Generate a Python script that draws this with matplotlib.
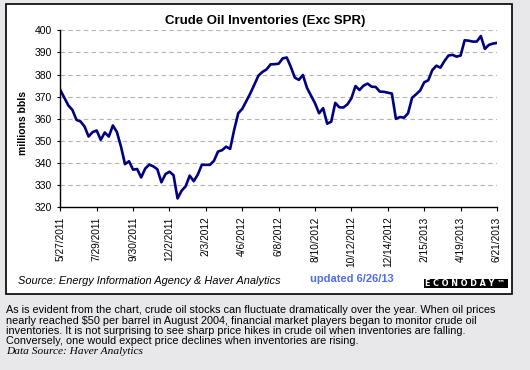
import matplotlib
matplotlib.use('Agg')
import matplotlib.pyplot as plt
import matplotlib.patches as patches
import pandas as pd

# weekly crude oil inventories, excluding SPR (millions of barrels), from 5/27/2011
inventory = [
    373.0, 369.5, 366.0, 364.0, 359.5, 358.8, 356.5, 352.0, 354.0, 354.7,
    350.5, 353.8, 352.0, 357.0, 354.0, 347.5, 339.5, 340.8, 337.0, 337.3,
    333.5, 337.5, 339.3, 338.5, 337.2, 331.3, 335.0, 336.1, 334.5, 324.0,
    327.5, 329.5, 334.3, 331.8, 334.8, 339.2, 339.2, 339.2, 341.0, 345.2,
    345.8, 347.4, 346.4, 355.0, 362.5, 364.5, 368.0, 371.5, 375.5, 379.5,
    381.2, 382.3, 384.6, 384.7, 384.9, 387.3, 387.7, 383.5, 378.6, 377.6,
    379.8, 374.0, 370.5, 367.0, 362.5, 364.8, 357.8, 358.7, 367.2, 365.2,
    365.1, 366.5, 369.3, 374.8, 373.0, 375.0, 375.9, 374.5, 374.4, 372.3,
    372.2, 371.8, 371.4, 360.0, 360.8, 360.5, 362.5, 369.5, 371.1, 372.8,
    376.5, 377.4, 382.0, 384.0, 383.1, 386.1, 388.6, 388.9, 388.1, 388.6,
    395.5, 395.3, 394.9, 394.9, 397.4, 391.6, 393.4, 394.0, 394.3,
]
start_date = '2011-05-27'

tick_labels = ['5/27/2011', '7/29/2011', '9/30/2011', '12/2/2011', '2/3/2012',
               '4/6/2012', '6/8/2012', '8/10/2012', '10/12/2012', '12/14/2012',
               '2/15/2013', '4/19/2013', '6/21/2013']
y_ticks = [320, 330, 340, 350, 360, 370, 380, 390, 400]

title = 'Crude Oil Inventories (Exc SPR)'
y_label = 'millions bbls'
source = 'Source: Energy Information Agency & Haver Analytics'
updated = 'updated 6/26/13'
logo = 'ECONODAY\u2122'
paragraph = [
    'As is evident from the chart, crude oil stocks can fluctuate dramatically over the year. When oil prices',
    'nearly reached $50 per barrel in August 2004, financial market players began to monitor crude oil',
    'inventories. It is not surprising to see sharp price hikes in crude oil when inventories are falling.',
    'Conversely, one would expect price declines when inventories are rising.',
]
data_source = 'Data Source: Haver Analytics'

W, H = 530, 370
BG = '#e8e8ea'
SANS = 'Liberation Sans'


def fx(x):
    return x / W


def fy(y):
    return 1 - y / H


def main():
    dates = pd.date_range(start_date, periods=len(inventory), freq='7D')
    ticks = pd.to_datetime(tick_labels, format='%m/%d/%Y')

    fig = plt.figure(figsize=(W / 100, H / 100), dpi=100, facecolor=BG)

    # white chart panel with black frame
    panel = patches.Rectangle((fx(6), fy(294)), fx(512) - fx(6), fy(4) - fy(294),
                              transform=fig.transFigure, facecolor='white',
                              edgecolor='black', linewidth=1.2, zorder=-5)
    fig.patches.append(panel)

    ax = fig.add_axes([fx(60.3), fy(207.3), fx(497) - fx(60.3), fy(30.3) - fy(207.3)])
    ax.set_zorder(2)
    ax.set_facecolor('none')
    ax.plot(dates, inventory, color='#000080', linewidth=1.9, solid_joinstyle='round')

    ax.set_xlim(dates[0], dates[-1])
    ax.set_ylim(320, 400)
    ax.set_yticks(y_ticks)
    ax.set_yticklabels([str(v) for v in y_ticks])
    ax.set_xticks(ticks)
    ax.set_xticklabels(tick_labels, rotation=90)

    for side in ('top', 'right'):
        ax.spines[side].set_visible(False)
    for side in ('left', 'bottom'):
        ax.spines[side].set_linewidth(1.0)
        ax.spines[side].set_color('black')

    ax.yaxis.grid(True, color='#b4b4b4', linewidth=0.8, linestyle=(0, (4, 3)))
    ax.xaxis.grid(False)
    ax.set_axisbelow(True)
    ax.tick_params(axis='y', direction='out', length=2.2, width=0.8, pad=3.5,
                   labelsize=7.5)
    ax.tick_params(axis='x', direction='out', length=2.8, width=0.8, pad=4,
                   labelsize=7.3)
    for lab in ax.get_xticklabels() + ax.get_yticklabels():
        lab.set_fontfamily(SANS)

    fig.text(fx(265), fy(20.7), title, fontsize=9.5, fontweight='bold',
             family=SANS, ha='center', va='center')
    fig.text(fx(22.7), fy(123), y_label, fontsize=7.5, fontweight='bold',
             family=SANS, rotation=90, ha='center', va='center')

    fig.text(fx(18.3), fy(281.5), source, fontsize=7.9, style='italic',
             family=SANS, ha='left', va='center')
    fig.text(fx(310.5), fy(279), updated, fontsize=8, fontweight='bold',
             color='#4f6cf2', family=SANS, ha='left', va='center')

    logo_box = patches.Rectangle((fx(423.5), fy(288.3)), fx(507.5) - fx(423.5),
                                 fy(279.3) - fy(288.3), transform=fig.transFigure,
                                 facecolor='black', edgecolor='none', zorder=3)
    fig.patches.append(logo_box)
    fig.text(fx(465), fy(283.9), ' '.join(logo), fontsize=5.8, fontweight='bold',
             color='white', family='DejaVu Sans', ha='center', va='center',
             zorder=4)

    line_y = [310.2, 320.6, 331.0, 341.2]
    for txt, y in zip(paragraph, line_y):
        fig.text(fx(6), fy(y), txt, fontsize=7.8, family=SANS, ha='left',
                 va='center', parse_math=False)
    fig.text(fx(6), fy(351.2), data_source, fontsize=8.2, style='italic',
             family='Liberation Serif', ha='left', va='center')

    fig.savefig('out.png', dpi=100, facecolor=BG)


if __name__ == '__main__':
    main()
